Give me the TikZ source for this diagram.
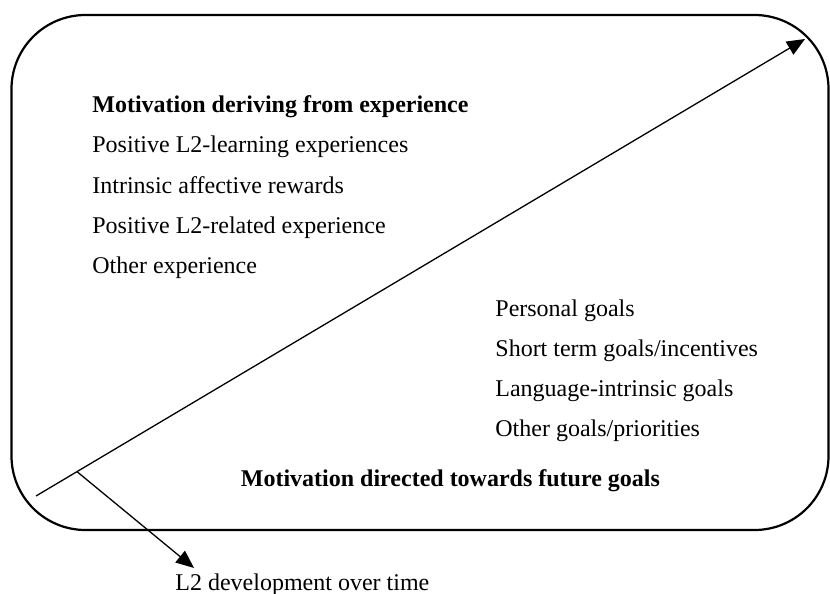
\documentclass[tikz,border=0pt]{standalone}
\usepackage{fontspec}
\setmainfont{Liberation Serif}
\usetikzlibrary{arrows.meta,calc}
\begin{document}
\begin{tikzpicture}[x=0.5pt,y=-0.5pt,
  txt/.style={anchor=base west, inner sep=0pt, font=\fontsize{12pt}{14pt}\selectfont},
  btxt/.style={anchor=base west, inner sep=0pt, font=\fontsize{12pt}{14pt}\selectfont\bfseries},
  frame/.style={line width=1.1pt, rounded corners=37pt},
  arr/.style={line width=0.65pt, -{Triangle[length=9pt,width=7.5pt]}}]
\useasboundingbox (0,0) rectangle (830,594);
\draw[frame] (11.5,15) rectangle (828.5,530);
% texts
\node[btxt] (h1) at (92,112) {Motivation deriving from experience};
\node[txt] (a1) at (92,152.5) {Positive L2-learning experiences};
\node[txt] (a2) at (92,193) {Intrinsic affective rewards};
\node[txt] (a3) at (92,233) {Positive L2-related experience};
\node[txt] (a4) at (92,273.5) {Other experience};
\node[txt] (b1) at (495,316.5) {Personal goals};
\node[txt] (b2) at (495,356.5) {Short term goals/incentives};
\node[txt] (b3) at (495,396.5) {Language-intrinsic goals};
\node[txt] (b4) at (495,436.5) {Other goals/priorities};
\node[btxt] (h2) at (240.5,486.5) {Motivation directed towards future goals};
\node[txt] (dev) at (175,590) {L2 development over time};
% arrows
\coordinate (start) at (36,496);
\coordinate (tip) at (805,39);
\draw[arr] (start) -- (tip);
\coordinate (branch) at ($(start)!0.0533!(tip)$);
\coordinate (tip2) at (194,568);
\draw[arr] (branch) -- (tip2);
\end{tikzpicture}
\end{document}
